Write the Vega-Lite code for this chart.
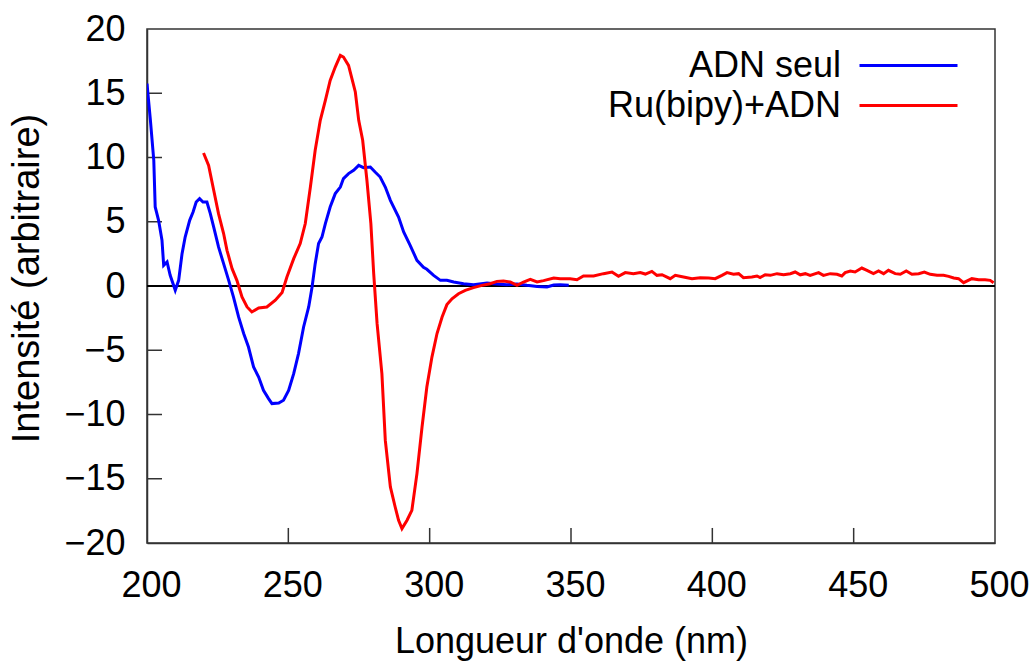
{
  "$schema": "https://vega.github.io/schema/vega-lite/v6.json",
  "width": 848,
  "height": 514,
  "autosize": {"type": "none"},
  "padding": {"left": 147, "top": 29, "right": 37, "bottom": 118},
  "background": "white",
  "config": {
    "font": "Liberation Sans",
    "view": {"stroke": "#333333", "strokeWidth": 1.5},
    "axis": {
      "grid": false,
      "ticks": false,
      "domainColor": "#333333",
      "domainWidth": 1.5,
      "labelFlush": false,
      "labelFont": "Liberation Sans",
      "labelFontSize": 36,
      "labelColor": "#000000",
      "titleFont": "Liberation Sans",
      "titleFontSize": 36,
      "titleFontWeight": "normal",
      "titleColor": "#000000"
    }
  },
  "datasets": {
    "spectra": [
      {"wl": 200.0, "v": 15.75, "s": "ADN seul"},
      {"wl": 201.2, "v": 12.9, "s": "ADN seul"},
      {"wl": 202.4, "v": 9.78, "s": "ADN seul"},
      {"wl": 202.9, "v": 6.15, "s": "ADN seul"},
      {"wl": 204.1, "v": 5.11, "s": "ADN seul"},
      {"wl": 205.3, "v": 3.56, "s": "ADN seul"},
      {"wl": 205.9, "v": 1.61, "s": "ADN seul"},
      {"wl": 207.1, "v": 1.87, "s": "ADN seul"},
      {"wl": 208.2, "v": 0.83, "s": "ADN seul"},
      {"wl": 210.0, "v": -0.33, "s": "ADN seul"},
      {"wl": 211.2, "v": 0.44, "s": "ADN seul"},
      {"wl": 212.4, "v": 2.52, "s": "ADN seul"},
      {"wl": 213.5, "v": 3.81, "s": "ADN seul"},
      {"wl": 215.1, "v": 5.11, "s": "ADN seul"},
      {"wl": 216.3, "v": 5.76, "s": "ADN seul"},
      {"wl": 217.4, "v": 6.54, "s": "ADN seul"},
      {"wl": 218.6, "v": 6.8, "s": "ADN seul"},
      {"wl": 219.8, "v": 6.54, "s": "ADN seul"},
      {"wl": 221.2, "v": 6.54, "s": "ADN seul"},
      {"wl": 222.4, "v": 5.63, "s": "ADN seul"},
      {"wl": 223.6, "v": 4.59, "s": "ADN seul"},
      {"wl": 225.3, "v": 3.04, "s": "ADN seul"},
      {"wl": 227.1, "v": 1.74, "s": "ADN seul"},
      {"wl": 228.9, "v": 0.44, "s": "ADN seul"},
      {"wl": 230.6, "v": -0.86, "s": "ADN seul"},
      {"wl": 232.4, "v": -2.41, "s": "ADN seul"},
      {"wl": 234.2, "v": -3.7, "s": "ADN seul"},
      {"wl": 235.9, "v": -4.75, "s": "ADN seul"},
      {"wl": 237.7, "v": -6.3, "s": "ADN seul"},
      {"wl": 239.5, "v": -7.08, "s": "ADN seul"},
      {"wl": 241.2, "v": -8.12, "s": "ADN seul"},
      {"wl": 243.0, "v": -8.76, "s": "ADN seul"},
      {"wl": 244.2, "v": -9.15, "s": "ADN seul"},
      {"wl": 246.6, "v": -9.1, "s": "ADN seul"},
      {"wl": 248.3, "v": -8.89, "s": "ADN seul"},
      {"wl": 250.1, "v": -8.12, "s": "ADN seul"},
      {"wl": 251.9, "v": -6.82, "s": "ADN seul"},
      {"wl": 253.6, "v": -5.26, "s": "ADN seul"},
      {"wl": 255.4, "v": -3.19, "s": "ADN seul"},
      {"wl": 257.2, "v": -1.63, "s": "ADN seul"},
      {"wl": 258.4, "v": -0.08, "s": "ADN seul"},
      {"wl": 259.5, "v": 1.74, "s": "ADN seul"},
      {"wl": 260.7, "v": 3.3, "s": "ADN seul"},
      {"wl": 261.9, "v": 3.81, "s": "ADN seul"},
      {"wl": 263.1, "v": 4.86, "s": "ADN seul"},
      {"wl": 264.8, "v": 6.15, "s": "ADN seul"},
      {"wl": 266.6, "v": 7.19, "s": "ADN seul"},
      {"wl": 268.4, "v": 7.7, "s": "ADN seul"},
      {"wl": 269.5, "v": 8.36, "s": "ADN seul"},
      {"wl": 271.3, "v": 8.75, "s": "ADN seul"},
      {"wl": 273.1, "v": 9.0, "s": "ADN seul"},
      {"wl": 274.9, "v": 9.39, "s": "ADN seul"},
      {"wl": 276.6, "v": 9.21, "s": "ADN seul"},
      {"wl": 279.0, "v": 9.26, "s": "ADN seul"},
      {"wl": 280.7, "v": 8.87, "s": "ADN seul"},
      {"wl": 282.5, "v": 8.48, "s": "ADN seul"},
      {"wl": 284.3, "v": 7.7, "s": "ADN seul"},
      {"wl": 286.1, "v": 6.67, "s": "ADN seul"},
      {"wl": 289.0, "v": 5.37, "s": "ADN seul"},
      {"wl": 290.8, "v": 4.2, "s": "ADN seul"},
      {"wl": 293.1, "v": 3.17, "s": "ADN seul"},
      {"wl": 295.5, "v": 2.0, "s": "ADN seul"},
      {"wl": 297.8, "v": 1.45, "s": "ADN seul"},
      {"wl": 299.0, "v": 1.3, "s": "ADN seul"},
      {"wl": 301.4, "v": 0.83, "s": "ADN seul"},
      {"wl": 303.8, "v": 0.44, "s": "ADN seul"},
      {"wl": 306.1, "v": 0.45, "s": "ADN seul"},
      {"wl": 308.5, "v": 0.31, "s": "ADN seul"},
      {"wl": 312.0, "v": 0.18, "s": "ADN seul"},
      {"wl": 315.5, "v": 0.1, "s": "ADN seul"},
      {"wl": 320.3, "v": 0.23, "s": "ADN seul"},
      {"wl": 323.8, "v": 0.16, "s": "ADN seul"},
      {"wl": 327.3, "v": 0.1, "s": "ADN seul"},
      {"wl": 330.9, "v": 0.16, "s": "ADN seul"},
      {"wl": 334.4, "v": 0.05, "s": "ADN seul"},
      {"wl": 338.0, "v": -0.03, "s": "ADN seul"},
      {"wl": 341.5, "v": -0.08, "s": "ADN seul"},
      {"wl": 343.9, "v": 0.08, "s": "ADN seul"},
      {"wl": 346.2, "v": 0.1, "s": "ADN seul"},
      {"wl": 349.2, "v": 0.05, "s": "ADN seul"},
      {"wl": 220.0, "v": 10.35, "s": "Ru(bipy)+ADN"},
      {"wl": 221.8, "v": 9.39, "s": "Ru(bipy)+ADN"},
      {"wl": 223.6, "v": 7.45, "s": "Ru(bipy)+ADN"},
      {"wl": 225.3, "v": 5.63, "s": "Ru(bipy)+ADN"},
      {"wl": 227.1, "v": 4.08, "s": "Ru(bipy)+ADN"},
      {"wl": 228.3, "v": 2.78, "s": "Ru(bipy)+ADN"},
      {"wl": 230.1, "v": 1.35, "s": "Ru(bipy)+ADN"},
      {"wl": 231.8, "v": 0.44, "s": "Ru(bipy)+ADN"},
      {"wl": 233.6, "v": -0.86, "s": "Ru(bipy)+ADN"},
      {"wl": 235.4, "v": -1.63, "s": "Ru(bipy)+ADN"},
      {"wl": 237.1, "v": -2.02, "s": "Ru(bipy)+ADN"},
      {"wl": 239.5, "v": -1.71, "s": "Ru(bipy)+ADN"},
      {"wl": 242.4, "v": -1.63, "s": "Ru(bipy)+ADN"},
      {"wl": 245.4, "v": -1.11, "s": "Ru(bipy)+ADN"},
      {"wl": 247.8, "v": -0.51, "s": "Ru(bipy)+ADN"},
      {"wl": 249.5, "v": 0.7, "s": "Ru(bipy)+ADN"},
      {"wl": 251.9, "v": 2.13, "s": "Ru(bipy)+ADN"},
      {"wl": 254.2, "v": 3.3, "s": "Ru(bipy)+ADN"},
      {"wl": 256.0, "v": 4.86, "s": "Ru(bipy)+ADN"},
      {"wl": 257.8, "v": 7.7, "s": "Ru(bipy)+ADN"},
      {"wl": 259.5, "v": 10.56, "s": "Ru(bipy)+ADN"},
      {"wl": 261.3, "v": 12.89, "s": "Ru(bipy)+ADN"},
      {"wl": 263.1, "v": 14.45, "s": "Ru(bipy)+ADN"},
      {"wl": 264.8, "v": 16.0, "s": "Ru(bipy)+ADN"},
      {"wl": 266.6, "v": 17.04, "s": "Ru(bipy)+ADN"},
      {"wl": 268.4, "v": 17.95, "s": "Ru(bipy)+ADN"},
      {"wl": 269.5, "v": 17.82, "s": "Ru(bipy)+ADN"},
      {"wl": 271.3, "v": 17.17, "s": "Ru(bipy)+ADN"},
      {"wl": 272.5, "v": 16.14, "s": "Ru(bipy)+ADN"},
      {"wl": 273.7, "v": 15.1, "s": "Ru(bipy)+ADN"},
      {"wl": 274.9, "v": 12.89, "s": "Ru(bipy)+ADN"},
      {"wl": 276.3, "v": 11.34, "s": "Ru(bipy)+ADN"},
      {"wl": 277.8, "v": 8.23, "s": "Ru(bipy)+ADN"},
      {"wl": 279.2, "v": 4.86, "s": "Ru(bipy)+ADN"},
      {"wl": 280.2, "v": 0.96, "s": "Ru(bipy)+ADN"},
      {"wl": 281.4, "v": -2.93, "s": "Ru(bipy)+ADN"},
      {"wl": 283.1, "v": -6.82, "s": "Ru(bipy)+ADN"},
      {"wl": 284.3, "v": -12.0, "s": "Ru(bipy)+ADN"},
      {"wl": 286.1, "v": -15.64, "s": "Ru(bipy)+ADN"},
      {"wl": 287.8, "v": -17.2, "s": "Ru(bipy)+ADN"},
      {"wl": 289.0, "v": -18.23, "s": "Ru(bipy)+ADN"},
      {"wl": 290.2, "v": -18.88, "s": "Ru(bipy)+ADN"},
      {"wl": 292.0, "v": -18.23, "s": "Ru(bipy)+ADN"},
      {"wl": 293.7, "v": -17.46, "s": "Ru(bipy)+ADN"},
      {"wl": 295.5, "v": -14.6, "s": "Ru(bipy)+ADN"},
      {"wl": 297.3, "v": -10.97, "s": "Ru(bipy)+ADN"},
      {"wl": 299.0, "v": -7.86, "s": "Ru(bipy)+ADN"},
      {"wl": 300.8, "v": -5.53, "s": "Ru(bipy)+ADN"},
      {"wl": 302.6, "v": -3.7, "s": "Ru(bipy)+ADN"},
      {"wl": 304.4, "v": -2.41, "s": "Ru(bipy)+ADN"},
      {"wl": 306.1, "v": -1.45, "s": "Ru(bipy)+ADN"},
      {"wl": 307.9, "v": -0.99, "s": "Ru(bipy)+ADN"},
      {"wl": 310.2, "v": -0.6, "s": "Ru(bipy)+ADN"},
      {"wl": 312.6, "v": -0.34, "s": "Ru(bipy)+ADN"},
      {"wl": 315.5, "v": -0.13, "s": "Ru(bipy)+ADN"},
      {"wl": 318.5, "v": 0.05, "s": "Ru(bipy)+ADN"},
      {"wl": 321.4, "v": 0.18, "s": "Ru(bipy)+ADN"},
      {"wl": 323.8, "v": 0.36, "s": "Ru(bipy)+ADN"},
      {"wl": 326.1, "v": 0.39, "s": "Ru(bipy)+ADN"},
      {"wl": 328.5, "v": 0.31, "s": "Ru(bipy)+ADN"},
      {"wl": 330.9, "v": 0.05, "s": "Ru(bipy)+ADN"},
      {"wl": 333.2, "v": 0.31, "s": "Ru(bipy)+ADN"},
      {"wl": 335.6, "v": 0.52, "s": "Ru(bipy)+ADN"},
      {"wl": 338.0, "v": 0.31, "s": "Ru(bipy)+ADN"},
      {"wl": 340.3, "v": 0.42, "s": "Ru(bipy)+ADN"},
      {"wl": 343.9, "v": 0.62, "s": "Ru(bipy)+ADN"},
      {"wl": 346.2, "v": 0.57, "s": "Ru(bipy)+ADN"},
      {"wl": 349.7, "v": 0.57, "s": "Ru(bipy)+ADN"},
      {"wl": 352.1, "v": 0.49, "s": "Ru(bipy)+ADN"},
      {"wl": 354.4, "v": 0.78, "s": "Ru(bipy)+ADN"},
      {"wl": 358.0, "v": 0.78, "s": "Ru(bipy)+ADN"},
      {"wl": 361.5, "v": 0.96, "s": "Ru(bipy)+ADN"},
      {"wl": 364.5, "v": 1.09, "s": "Ru(bipy)+ADN"},
      {"wl": 366.8, "v": 0.75, "s": "Ru(bipy)+ADN"},
      {"wl": 369.2, "v": 1.04, "s": "Ru(bipy)+ADN"},
      {"wl": 372.1, "v": 0.96, "s": "Ru(bipy)+ADN"},
      {"wl": 374.5, "v": 1.04, "s": "Ru(bipy)+ADN"},
      {"wl": 376.3, "v": 0.93, "s": "Ru(bipy)+ADN"},
      {"wl": 378.6, "v": 1.14, "s": "Ru(bipy)+ADN"},
      {"wl": 380.4, "v": 0.83, "s": "Ru(bipy)+ADN"},
      {"wl": 382.2, "v": 0.88, "s": "Ru(bipy)+ADN"},
      {"wl": 385.1, "v": 0.57, "s": "Ru(bipy)+ADN"},
      {"wl": 386.9, "v": 0.83, "s": "Ru(bipy)+ADN"},
      {"wl": 389.8, "v": 0.7, "s": "Ru(bipy)+ADN"},
      {"wl": 392.8, "v": 0.57, "s": "Ru(bipy)+ADN"},
      {"wl": 395.7, "v": 0.65, "s": "Ru(bipy)+ADN"},
      {"wl": 398.7, "v": 0.62, "s": "Ru(bipy)+ADN"},
      {"wl": 401.0, "v": 0.57, "s": "Ru(bipy)+ADN"},
      {"wl": 403.4, "v": 0.83, "s": "Ru(bipy)+ADN"},
      {"wl": 405.2, "v": 1.04, "s": "Ru(bipy)+ADN"},
      {"wl": 407.5, "v": 0.91, "s": "Ru(bipy)+ADN"},
      {"wl": 409.3, "v": 0.96, "s": "Ru(bipy)+ADN"},
      {"wl": 411.0, "v": 0.65, "s": "Ru(bipy)+ADN"},
      {"wl": 414.0, "v": 0.7, "s": "Ru(bipy)+ADN"},
      {"wl": 415.8, "v": 0.78, "s": "Ru(bipy)+ADN"},
      {"wl": 416.9, "v": 0.65, "s": "Ru(bipy)+ADN"},
      {"wl": 418.7, "v": 0.88, "s": "Ru(bipy)+ADN"},
      {"wl": 420.5, "v": 0.83, "s": "Ru(bipy)+ADN"},
      {"wl": 422.9, "v": 0.96, "s": "Ru(bipy)+ADN"},
      {"wl": 425.2, "v": 0.88, "s": "Ru(bipy)+ADN"},
      {"wl": 427.6, "v": 0.96, "s": "Ru(bipy)+ADN"},
      {"wl": 429.3, "v": 1.09, "s": "Ru(bipy)+ADN"},
      {"wl": 431.1, "v": 0.87, "s": "Ru(bipy)+ADN"},
      {"wl": 432.9, "v": 0.96, "s": "Ru(bipy)+ADN"},
      {"wl": 434.6, "v": 0.83, "s": "Ru(bipy)+ADN"},
      {"wl": 437.6, "v": 1.04, "s": "Ru(bipy)+ADN"},
      {"wl": 439.3, "v": 0.83, "s": "Ru(bipy)+ADN"},
      {"wl": 441.7, "v": 0.96, "s": "Ru(bipy)+ADN"},
      {"wl": 444.1, "v": 0.91, "s": "Ru(bipy)+ADN"},
      {"wl": 445.8, "v": 0.78, "s": "Ru(bipy)+ADN"},
      {"wl": 447.0, "v": 1.04, "s": "Ru(bipy)+ADN"},
      {"wl": 448.8, "v": 1.17, "s": "Ru(bipy)+ADN"},
      {"wl": 450.5, "v": 1.09, "s": "Ru(bipy)+ADN"},
      {"wl": 452.9, "v": 1.4, "s": "Ru(bipy)+ADN"},
      {"wl": 454.7, "v": 1.22, "s": "Ru(bipy)+ADN"},
      {"wl": 457.0, "v": 0.96, "s": "Ru(bipy)+ADN"},
      {"wl": 458.8, "v": 1.17, "s": "Ru(bipy)+ADN"},
      {"wl": 460.6, "v": 0.96, "s": "Ru(bipy)+ADN"},
      {"wl": 462.3, "v": 1.22, "s": "Ru(bipy)+ADN"},
      {"wl": 464.7, "v": 0.96, "s": "Ru(bipy)+ADN"},
      {"wl": 466.5, "v": 0.91, "s": "Ru(bipy)+ADN"},
      {"wl": 468.6, "v": 1.17, "s": "Ru(bipy)+ADN"},
      {"wl": 470.6, "v": 0.91, "s": "Ru(bipy)+ADN"},
      {"wl": 473.0, "v": 0.96, "s": "Ru(bipy)+ADN"},
      {"wl": 475.0, "v": 1.09, "s": "Ru(bipy)+ADN"},
      {"wl": 477.1, "v": 0.91, "s": "Ru(bipy)+ADN"},
      {"wl": 479.5, "v": 0.83, "s": "Ru(bipy)+ADN"},
      {"wl": 481.8, "v": 0.83, "s": "Ru(bipy)+ADN"},
      {"wl": 483.6, "v": 0.75, "s": "Ru(bipy)+ADN"},
      {"wl": 485.4, "v": 0.62, "s": "Ru(bipy)+ADN"},
      {"wl": 487.1, "v": 0.57, "s": "Ru(bipy)+ADN"},
      {"wl": 488.9, "v": 0.26, "s": "Ru(bipy)+ADN"},
      {"wl": 491.8, "v": 0.57, "s": "Ru(bipy)+ADN"},
      {"wl": 494.2, "v": 0.49, "s": "Ru(bipy)+ADN"},
      {"wl": 496.5, "v": 0.49, "s": "Ru(bipy)+ADN"},
      {"wl": 498.3, "v": 0.44, "s": "Ru(bipy)+ADN"},
      {"wl": 499.5, "v": 0.26, "s": "Ru(bipy)+ADN"}
    ],
    "xticks": [{"t": 250}, {"t": 300}, {"t": 350}, {"t": 400}, {"t": 450}],
    "yticks": [{"t": -15}, {"t": -10}, {"t": -5}, {"t": 5}, {"t": 10}, {"t": 15}]
  },
  "layer": [
    {
      "data": {"name": "xticks"},
      "mark": {"type": "rule", "color": "#333333", "strokeWidth": 1.5},
      "encoding": {
        "x": {"field": "t", "type": "quantitative"},
        "y": {"datum": -20, "type": "quantitative"},
        "y2": {"datum": -18.83}
      }
    },
    {
      "data": {"name": "yticks"},
      "mark": {"type": "rule", "color": "#333333", "strokeWidth": 1.5},
      "encoding": {
        "y": {"field": "t", "type": "quantitative"},
        "x": {"datum": 200, "type": "quantitative"},
        "x2": {"datum": 205.3}
      }
    },
    {
      "data": {"name": "spectra"},
      "mark": {"type": "rule", "color": "#000000", "strokeWidth": 2},
      "encoding": {"y": {"datum": 0, "type": "quantitative"}}
    },
    {
      "data": {"name": "spectra"},
      "mark": {"type": "line", "strokeWidth": 3, "clip": true},
      "encoding": {
        "x": {
          "field": "wl",
          "type": "quantitative",
          "scale": {"domain": [200, 500], "nice": false, "zero": false},
          "axis": {
            "title": "Longueur d'onde (nm)",
            "values": [200, 250, 300, 350, 400, 450, 500],
            "labelPadding": 25,
            "labelOffset": 4,
            "titlePadding": 21
          }
        },
        "y": {
          "field": "v",
          "type": "quantitative",
          "scale": {"domain": [-20, 20], "nice": false},
          "axis": {
            "title": "Intensité (arbitraire)",
            "values": [-20, -15, -10, -5, 0, 5, 10, 15, 20],
            "labelPadding": 22,
            "titlePadding": 17,
            "titleFontSize": 38,
            "titleY": 249
          }
        },
        "color": {
          "field": "s",
          "type": "nominal",
          "scale": {"domain": ["ADN seul", "Ru(bipy)+ADN"], "range": ["#0000ff", "#ff0000"]},
          "legend": {
            "title": null,
            "orient": "none",
            "legendX": 740,
            "legendY": 15,
            "symbolType": "M-2.5,0H2.5",
            "symbolSize": 1537,
            "symbolStrokeWidth": 3,
            "labelAlign": "right",
            "labelOffset": -89,
            "labelFontSize": 36,
            "labelFont": "Liberation Sans",
            "labelColor": "#000000",
            "labelLimit": 500,
            "rowPadding": 0
          }
        }
      }
    }
  ]
}
